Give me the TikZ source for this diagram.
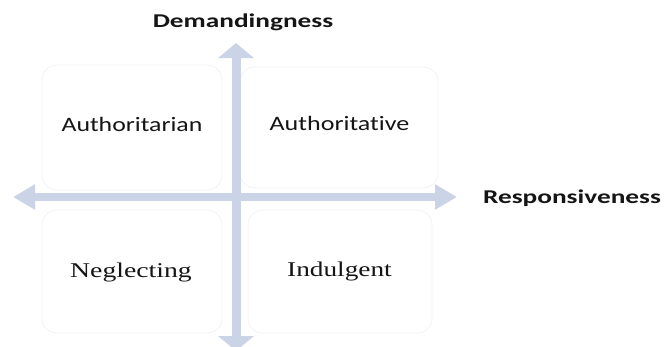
\documentclass[tikz,border=0pt]{standalone}
\usepackage{fontspec}
\usetikzlibrary{arrows.meta}
\newfontfamily\labelsans[Ligatures=NoCommon]{Carlito}
\newfontfamily\labelserif{Liberation Serif}
\definecolor{axisblue}{HTML}{CBD4E7}
\definecolor{boxline}{HTML}{F3F3F3}
\definecolor{inkc}{HTML}{151515}
\newcommand{\stretchx}[2]{\scalebox{#1}[1]{#2}}
\begin{document}
\begin{tikzpicture}[x=1pt,y=-1pt,
  lbl/.style={anchor=base,inner sep=0pt,text=inkc},
  axistitle/.style={lbl,font=\labelsans\bfseries\fontsize{19.5}{20}\selectfont},
  stylesans/.style={lbl,font=\labelsans\fontsize{20.5}{22}\selectfont},
  styleserif/.style={lbl,font=\labelserif\fontsize{21}{23}\selectfont},
  quadbox/.style={draw=boxline,line width=0.8pt,rounded corners=15pt},
  haxis/.style={draw=axisblue,line width=8pt,
    {Triangle[length=22pt,width=24pt,fill=axisblue]}-{Triangle[length=22pt,width=24pt,fill=axisblue]}},
  vaxis/.style={draw=axisblue,line width=9pt,
    {Triangle[length=15pt,width=35pt,fill=axisblue]}-{Triangle[length=15pt,width=35pt,fill=axisblue]}}]
\useasboundingbox (0,0) rectangle (664,346);
\clip (0,0) rectangle (664,346);
\fill[white] (0,0) rectangle (664,346);

% faint rounded frames of the four quadrants
\draw[quadbox] (42,65) rectangle (222,190);
\draw[quadbox] (240,67) rectangle (438,188);
\draw[quadbox] (42,210) rectangle (222,333);
\draw[quadbox] (248,210) rectangle (432,333);

% axis end points
\coordinate (west) at (13,197);
\coordinate (east) at (457,197);
\coordinate (north) at (236,43);
\coordinate (south) at (236,351);

% axes
\draw[haxis] (west) -- (east);
\draw[vaxis] (south) -- (north);

% axis titles
\node[axistitle] (dem) at (243,27) {\stretchx{1.40}{Demandingness}};
\node[axistitle] (resp) at (572,203) {\stretchx{1.40}{Responsiveness}};

% quadrant labels
\node[stylesans] (autn) at (132,131) {\stretchx{1.26}{Authoritarian}};
\node[stylesans] (autv) at (339.5,130) {\stretchx{1.27}{Authoritative}};
\node[styleserif] (negl) at (131,277) {\stretchx{1.32}{Neglecting}};
\node[styleserif] (indu) at (339.5,276) {\stretchx{1.30}{Indulgent}};
\end{tikzpicture}
\end{document}
